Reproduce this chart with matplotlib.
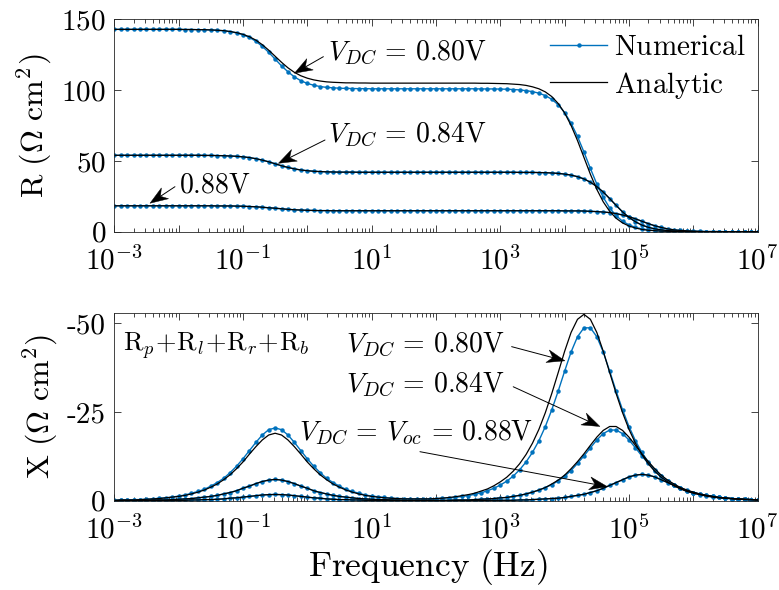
import numpy as np
import matplotlib
matplotlib.use("Agg")
import matplotlib.pyplot as plt
from matplotlib.ticker import FixedLocator, NullFormatter
from matplotlib.patches import Polygon
from matplotlib.transforms import IdentityTransform

plt.rcParams['mathtext.fontset'] = 'cm'
plt.rcParams['font.family'] = ['cmr10', 'DejaVu Serif']
plt.rcParams['axes.unicode_minus'] = False

# ---------------- data ----------------
# frequency sampling: log10(f) from -3 to 7, 0.1-decade steps
log_freq = np.round(np.arange(-30, 71) / 10.0, 1)

# R (Ohm cm^2) -- V_DC = 0.80 V
R80_num = [143.0, 143.0, 143.0, 143.0, 143.0, 143.0, 143.0, 143.0, 143.0, 143.0,
           143.0, 142.9, 142.9, 142.8, 142.7, 142.6, 142.3, 142.0, 141.4, 140.5,
           139.2, 137.3, 134.6, 131.0, 126.8, 122.0, 117.2, 113.0, 109.4, 106.7,
           104.8, 103.5, 102.6, 102.0, 101.7, 101.4, 101.3, 101.2, 101.1, 101.1,
           101.0, 101.0, 101.0, 101.0, 101.0, 101.0, 101.0, 101.0, 101.0, 101.0,
           101.0, 101.0, 101.0, 101.0, 101.0, 101.0, 101.0, 100.9, 100.9, 100.9,
           100.8, 100.7, 100.5, 100.2, 99.7, 99.0, 97.9, 96.2, 93.6, 89.7,
           84.2, 76.7, 67.3, 56.3, 44.7, 33.7, 24.3, 16.8, 11.3, 7.4,
           4.8, 3.1, 2.0, 1.3, 0.8, 0.5, 0.3, 0.2, 0.1, 0.1,
           0.0, 0.0, 0.0, 0.0, 0.0, 0.0, 0.0, 0.0, 0.0, 0.0, 0.0]
R80_ana = [143.0, 143.0, 143.0, 143.0, 143.0, 143.0, 143.0, 143.0, 143.0, 143.0,
           143.0, 142.9, 142.9, 142.8, 142.8, 142.6, 142.4, 142.1, 141.5, 140.7,
           139.5, 137.8, 135.4, 132.2, 128.3, 124.0, 119.7, 115.8, 112.6, 110.2,
           108.5, 107.3, 106.5, 105.9, 105.6, 105.4, 105.2, 105.2, 105.1, 105.1,
           105.0, 105.0, 105.0, 105.0, 105.0, 105.0, 105.0, 105.0, 105.0, 105.0,
           105.0, 105.0, 105.0, 105.0, 105.0, 105.0, 105.0, 104.9, 104.9, 104.8,
           104.7, 104.6, 104.3, 104.0, 103.4, 102.4, 101.0, 98.8, 95.5, 90.6,
           83.9, 75.1, 64.4, 52.5, 40.6, 29.9, 21.1, 14.4, 9.5, 6.2,
           4.0, 2.6, 1.6, 1.0, 0.7, 0.4, 0.3, 0.2, 0.1, 0.1,
           0.0, 0.0, 0.0, 0.0, 0.0, 0.0, 0.0, 0.0, 0.0, 0.0, 0.0]
# R -- V_DC = 0.84 V (numerical and analytic coincide)
R84 = [54.0, 54.0, 54.0, 54.0, 54.0, 54.0, 54.0, 54.0, 54.0, 54.0,
       54.0, 54.0, 54.0, 54.0, 53.9, 53.9, 53.8, 53.7, 53.5, 53.3,
       52.9, 52.4, 51.6, 50.6, 49.4, 48.0, 46.6, 45.4, 44.4, 43.6,
       43.1, 42.7, 42.5, 42.3, 42.2, 42.1, 42.1, 42.1, 42.0, 42.0,
       42.0, 42.0, 42.0, 42.0, 42.0, 42.0, 42.0, 42.0, 42.0, 42.0,
       42.0, 42.0, 42.0, 42.0, 42.0, 42.0, 42.0, 42.0, 42.0, 42.0,
       42.0, 42.0, 42.0, 41.9, 41.9, 41.9, 41.8, 41.7, 41.5, 41.2,
       40.7, 40.0, 38.9, 37.3, 35.0, 31.9, 28.0, 23.4, 18.6, 14.0,
       10.1, 7.0, 4.7, 3.1, 2.0, 1.3, 0.8, 0.5, 0.3, 0.2,
       0.1, 0.1, 0.0, 0.0, 0.0, 0.0, 0.0, 0.0, 0.0, 0.0, 0.0]
# R -- V_DC = V_oc = 0.88 V
R88 = [18.3, 18.3, 18.3, 18.3, 18.3, 18.3, 18.3, 18.3, 18.3, 18.3,
       18.3, 18.3, 18.3, 18.3, 18.3, 18.3, 18.2, 18.2, 18.2, 18.1,
       18.0, 17.8, 17.6, 17.3, 16.9, 16.6, 16.2, 15.8, 15.5, 15.3,
       15.1, 15.0, 14.9, 14.9, 14.8, 14.8, 14.8, 14.8, 14.8, 14.8,
       14.8, 14.8, 14.8, 14.8, 14.8, 14.8, 14.8, 14.8, 14.8, 14.8,
       14.8, 14.8, 14.8, 14.8, 14.8, 14.8, 14.8, 14.8, 14.8, 14.8,
       14.8, 14.8, 14.8, 14.8, 14.8, 14.8, 14.8, 14.8, 14.8, 14.8,
       14.7, 14.7, 14.7, 14.6, 14.4, 14.2, 13.9, 13.5, 12.8, 11.8,
       10.6, 9.1, 7.4, 5.7, 4.2, 3.0, 2.0, 1.3, 0.9, 0.6,
       0.4, 0.2, 0.1, 0.1, 0.1, 0.0, 0.0, 0.0, 0.0, 0.0, 0.0]

# X (Ohm cm^2), plotted as negative values (-X axis)
X80_num = [0.1, 0.2, 0.2, 0.3, 0.3, 0.4, 0.5, 0.7, 0.8, 1.0,
           1.3, 1.6, 2.1, 2.6, 3.2, 4.1, 5.1, 6.3, 7.9, 9.7,
           11.8, 14.1, 16.4, 18.5, 20.0, 20.5, 20.0, 18.5, 16.4, 14.1,
           11.8, 9.7, 7.9, 6.3, 5.1, 4.1, 3.2, 2.6, 2.1, 1.6,
           1.3, 1.1, 0.9, 0.7, 0.6, 0.6, 0.5, 0.5, 0.5, 0.5,
           0.6, 0.7, 0.8, 0.9, 1.2, 1.4, 1.8, 2.2, 2.8, 3.5,
           4.4, 5.5, 6.9, 8.7, 10.9, 13.6, 16.9, 20.9, 25.6, 30.9,
           36.5, 41.9, 46.2, 48.7, 48.7, 46.2, 41.9, 36.5, 30.9, 25.6,
           20.9, 16.9, 13.6, 10.9, 8.7, 6.9, 5.5, 4.4, 3.5, 2.8,
           2.2, 1.7, 1.4, 1.1, 0.9, 0.7, 0.6, 0.4, 0.4, 0.3, 0.2]
X80_ana = [0.1, 0.2, 0.2, 0.2, 0.3, 0.4, 0.5, 0.6, 0.8, 1.0,
           1.2, 1.5, 1.9, 2.4, 3.0, 3.8, 4.7, 5.9, 7.3, 9.0,
           10.9, 13.1, 15.2, 17.1, 18.5, 19.0, 18.5, 17.1, 15.2, 13.1,
           10.9, 9.0, 7.3, 5.9, 4.7, 3.8, 3.0, 2.4, 1.9, 1.5,
           1.2, 1.0, 0.8, 0.7, 0.6, 0.5, 0.5, 0.5, 0.5, 0.5,
           0.6, 0.7, 0.9, 1.1, 1.4, 1.7, 2.1, 2.7, 3.3, 4.2,
           5.3, 6.6, 8.3, 10.4, 13.0, 16.2, 20.1, 24.8, 30.2, 36.1,
           42.1, 47.4, 51.1, 52.5, 51.1, 47.4, 42.1, 36.1, 30.2, 24.8,
           20.1, 16.2, 13.0, 10.4, 8.3, 6.6, 5.3, 4.2, 3.3, 2.6,
           2.1, 1.7, 1.3, 1.0, 0.8, 0.7, 0.5, 0.4, 0.3, 0.3, 0.2]
X84_num = [0.0, 0.1, 0.1, 0.1, 0.1, 0.1, 0.2, 0.2, 0.2, 0.3,
           0.4, 0.5, 0.6, 0.8, 1.0, 1.2, 1.5, 1.9, 2.3, 2.8,
           3.5, 4.1, 4.8, 5.4, 5.8, 6.0, 5.8, 5.4, 4.8, 4.1,
           3.5, 2.8, 2.3, 1.9, 1.5, 1.2, 1.0, 0.8, 0.6, 0.5,
           0.4, 0.3, 0.3, 0.2, 0.2, 0.1, 0.1, 0.1, 0.1, 0.1,
           0.1, 0.1, 0.1, 0.2, 0.2, 0.2, 0.3, 0.4, 0.5, 0.6,
           0.8, 0.9, 1.2, 1.5, 1.9, 2.4, 3.0, 3.7, 4.5, 5.6,
           6.9, 8.5, 10.5, 12.6, 14.9, 17.1, 18.9, 19.9, 19.9, 18.9,
           17.1, 14.9, 12.6, 10.5, 8.5, 6.9, 5.6, 4.5, 3.6, 2.9,
           2.3, 1.9, 1.5, 1.2, 0.9, 0.8, 0.6, 0.5, 0.4, 0.3, 0.2]
X84_ana = [0.0, 0.1, 0.1, 0.1, 0.1, 0.1, 0.2, 0.2, 0.2, 0.3,
           0.4, 0.5, 0.6, 0.8, 1.0, 1.2, 1.5, 1.9, 2.3, 2.8,
           3.5, 4.1, 4.8, 5.4, 5.8, 6.0, 5.8, 5.4, 4.8, 4.1,
           3.5, 2.8, 2.3, 1.9, 1.5, 1.2, 1.0, 0.8, 0.6, 0.5,
           0.4, 0.3, 0.3, 0.2, 0.2, 0.1, 0.1, 0.1, 0.1, 0.1,
           0.1, 0.1, 0.1, 0.2, 0.2, 0.2, 0.3, 0.4, 0.5, 0.6,
           0.8, 0.9, 1.2, 1.5, 1.9, 2.4, 3.0, 3.7, 4.7, 5.8,
           7.2, 9.0, 11.0, 13.2, 15.6, 17.9, 19.8, 20.9, 20.9, 19.8,
           17.9, 15.6, 13.2, 11.0, 9.0, 7.2, 5.8, 4.7, 3.7, 3.0,
           2.4, 1.9, 1.5, 1.2, 0.9, 0.8, 0.6, 0.5, 0.4, 0.3, 0.2]
X88 = [0.0, 0.0, 0.0, 0.0, 0.0, 0.0, 0.0, 0.1, 0.1, 0.1,
       0.1, 0.1, 0.2, 0.2, 0.3, 0.3, 0.4, 0.5, 0.7, 0.8,
       1.0, 1.2, 1.4, 1.6, 1.7, 1.75, 1.7, 1.6, 1.4, 1.2,
       1.0, 0.8, 0.7, 0.5, 0.4, 0.3, 0.3, 0.2, 0.2, 0.1,
       0.1, 0.1, 0.1, 0.1, 0.0, 0.0, 0.0, 0.0, 0.0, 0.0,
       0.0, 0.0, 0.0, 0.0, 0.0, 0.0, 0.0, 0.0, 0.1, 0.1,
       0.1, 0.1, 0.1, 0.2, 0.2, 0.3, 0.4, 0.5, 0.6, 0.7,
       0.9, 1.2, 1.5, 1.8, 2.3, 2.8, 3.5, 4.3, 5.1, 5.9,
       6.7, 7.2, 7.4, 7.2, 6.7, 5.9, 5.1, 4.3, 3.5, 2.8,
       2.3, 1.8, 1.5, 1.2, 0.9, 0.7, 0.6, 0.5, 0.4, 0.3, 0.2]

xtick_exps = [-3, -2, -1, 0, 1, 2, 3, 4, 5, 6, 7]
xtick_labels = [r'$10^{-3}$', '', r'$10^{-1}$', '', r'$10^{1}$', '',
                r'$10^{3}$', '', r'$10^{5}$', '', r'$10^{7}$']
R_ticks = [0, 50, 100, 150]
R_ticklabels = ['0', '50', '100', '150']
X_ticks = [-50, -25, 0]
X_ticklabels = ['-50', '-25', '0']

# ---------------- styling ----------------
BLUE = '#0072BD'
AXC = '#262626'
TICK_FS = 21
LABEL_FS = 23
ANN_FS = 20

freq = 10.0 ** log_freq

fig = plt.figure(figsize=(7.79, 5.90), dpi=100)
ax1 = fig.add_axes([0.1467, 0.6073, 0.8259, 0.3597])
ax2 = fig.add_axes([0.1467, 0.1514, 0.8259, 0.3176])

minor_locs = [m * 10.0 ** e for e in range(-3, 7) for m in range(2, 10)]

for ax in (ax1, ax2):
    ax.set_xscale('log')
    ax.set_xlim(1e-3, 1e7)
    ax.set_xticks([10.0 ** e for e in xtick_exps], xtick_labels)
    ax.xaxis.set_minor_locator(FixedLocator(minor_locs))
    ax.xaxis.set_minor_formatter(NullFormatter())
    ax.tick_params(which='both', direction='in', top=True, right=True,
                   color=AXC, width=0.6, labelsize=TICK_FS, labelcolor='black')
    ax.tick_params(which='major', length=5)
    ax.tick_params(which='minor', length=2.8)
    ax.tick_params(axis='x', pad=10.5)
    ax.tick_params(axis='y', pad=6)
    for s in ax.spines.values():
        s.set_linewidth(0.6)
        s.set_color(AXC)

mkw = dict(color=BLUE, lw=1.0, marker='o', ms=3.2, mew=0)
akw = dict(color='black', lw=0.9)


def arrow(ax, tip, tail, L=18.0, W=6.5, notch=0.7):
    """Thin line with a MATLAB-like notched arrow head (head drawn in pixels)."""
    p_tip = ax.transData.transform(tip)
    p_tail = ax.transData.transform(tail)
    d = p_tip - p_tail
    d = d / np.hypot(*d)
    n = np.array([-d[1], d[0]])
    base = p_tip - L * d
    head = [p_tip, base + W * n, p_tip - notch * L * d, base - W * n]
    line_end = ax.transData.inverted().transform(p_tip - notch * L * d)
    ax.annotate('', xy=tuple(line_end), xytext=tail,
                arrowprops=dict(arrowstyle='-', color='black', lw=0.7,
                                shrinkA=0, shrinkB=0))
    fig.add_artist(Polygon(head, closed=True, facecolor='black', edgecolor='black',
                           lw=0.3, transform=IdentityTransform()))


# ---- top: R ----
ax1.plot(freq, R80_num, **mkw, label=r'$\mathrm{Numerical}$')
ax1.plot(freq, R84, **mkw)
ax1.plot(freq, R88, **mkw)
ax1.plot(freq, R80_ana, **akw, label=r'$\mathrm{Analytic}$')
ax1.plot(freq, R84, **akw)
ax1.plot(freq, R88, **akw)
ax1.set_ylim(0, 150)
ax1.set_yticks(R_ticks, [r'$%s$' % t for t in R_ticklabels])
ax1.set_ylabel(r'$\mathrm{R\ (\Omega\ cm^2)}$', fontsize=LABEL_FS, labelpad=5)

leg = ax1.legend(loc='upper right', frameon=False, fontsize=21,
                 handlelength=1.95, handletextpad=0.25, labelspacing=0.3,
                 borderaxespad=0.15, bbox_to_anchor=(1.007, 1.005))

ax1.text(2.1, 126.1, r'$V_{DC}\,=\,0.80\mathrm{V}$', fontsize=ANN_FS, ha='left', va='center')
arrow(ax1, (10 ** -0.20, 112.0), (10 ** 0.25, 123.7))
ax1.text(2.12, 68.4, r'$V_{DC}\,=\,0.84\mathrm{V}$', fontsize=ANN_FS, ha='left', va='center')
arrow(ax1, (10 ** -0.45, 48.3), (10 ** 0.275, 64.8))
ax1.text(10 ** -2.0, 33.0, r'$0.88\mathrm{V}$', fontsize=ANN_FS, ha='left', va='center')
arrow(ax1, (10 ** -2.445, 20.1), (10 ** -2.057, 31.8))

# ---- bottom: X ----
neg = lambda v: -np.asarray(v)
ax2.plot(freq, neg(X80_num), **mkw)
ax2.plot(freq, neg(X84_num), **mkw)
ax2.plot(freq, neg(X88), **mkw)
ax2.plot(freq, neg(X80_ana), **akw)
ax2.plot(freq, neg(X84_ana), **akw)
ax2.plot(freq, neg(X88), **akw)
ax2.set_ylim(0, -52.8)
ax2.set_yticks(X_ticks, X_ticklabels, fontfamily='cmr10')
ax2.set_ylabel(r'$\mathrm{X\ (\Omega\ cm^2)}$', fontsize=LABEL_FS, labelpad=5)
ax2.set_xlabel(r'$\mathrm{Frequency\ (Hz)}$', fontsize=25.5)
ax2.xaxis.set_label_coords(0.4876, -0.245)

ax2.text(10 ** -2.864, -43.7, r'$\mathrm{R}_p\!+\!\mathrm{R}_l\!+\!\mathrm{R}_r\!+\!\mathrm{R}_b$',
         fontsize=19, ha='left', va='center')
ax2.text(10 ** 3.072, -43.9, r'$V_{DC}\,=\,0.80\mathrm{V}$', fontsize=ANN_FS, ha='right', va='center')
arrow(ax2, (10 ** 4.005, -39.4), (10 ** 3.176, -43.4))
ax2.text(10 ** 3.072, -32.6, r'$V_{DC}\,=\,0.84\mathrm{V}$', fontsize=ANN_FS, ha='right', va='center')
arrow(ax2, (10 ** 4.549, -20.9), (10 ** 3.201, -32.1))
ax2.text(10 ** 3.508, -19.1, r'$V_{DC}\,=\,V_{oc}\,=\,0.88\mathrm{V}$', fontsize=ANN_FS,
         ha='right', va='center')
arrow(ax2, (10 ** 4.665, -3.95), (10 ** 1.751, -13.8))

fig.savefig('out.png', dpi=100)
